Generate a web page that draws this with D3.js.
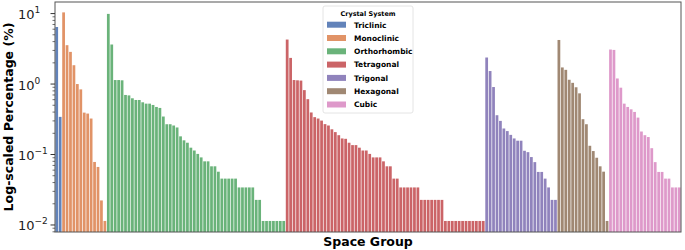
<!DOCTYPE html>
<html>
<head>
<meta charset="utf-8">
<script src="https://cdn.jsdelivr.net/npm/d3@7"></script>
<style>
  body { margin: 0; background: #fff; }
  text { font-family: "DejaVu Sans", sans-serif; }
</style>
</head>
<body>
<div id="chart"></div>
<script>
const systems = ["Triclinic", "Monoclinic", "Orthorhombic", "Tetragonal", "Trigonal", "Hexagonal", "Cubic"];
const colors = ["#4C72B0", "#DD8452", "#55A868", "#C44E52", "#8172B3", "#937860", "#DA8BC3"];

// percentage of structures per space group, sorted high to low within each system
const triclinic = [6.45, 0.342];
const monoclinic = [10.4, 3.56, 2.86, 1.85, 1.0, 0.84, 0.393, 0.381, 0.324, 0.0784, 0.0666, 0.0223, 0.0114];
const orthorhombic = [9.9, 3.64, 1.14, 1.14, 1.13, 0.70, 0.69, 0.628, 0.594, 0.594,
    0.551, 0.527, 0.527, 0.505, 0.473, 0.458, 0.346, 0.269, 0.269, 0.258,
    0.242, 0.181, 0.159, 0.147, 0.125, 0.114, 0.102, 0.091, 0.080, 0.080,
    0.068, 0.068, 0.057, 0.0455, 0.0455, 0.0455, 0.0455, 0.0455, 0.0341, 0.0341,
    0.0341, 0.0341, 0.0341, 0.0227, 0.0227, 0.0114, 0.0114, 0.0114, 0.0114, 0.0114,
    0.0114, 0.0114];
const tetragonal = [4.28, 2.35, 1.14, 1.13, 1.12, 0.82, 0.61, 0.395, 0.339, 0.324,
    0.303, 0.27, 0.258, 0.228, 0.208, 0.188, 0.169, 0.167, 0.147, 0.136,
    0.136, 0.125, 0.114, 0.114, 0.102, 0.091, 0.091, 0.091, 0.080, 0.068,
    0.068, 0.0455, 0.0455, 0.0341, 0.0341, 0.0341, 0.0341, 0.0341, 0.0341, 0.0227,
    0.0227, 0.0227, 0.0227, 0.0227, 0.0227, 0.0227, 0.0114, 0.0114, 0.0114, 0.0114,
    0.0114, 0.0114, 0.0114, 0.0114, 0.0114, 0.0114, 0.0114, 0.0114];
const trigonal = [2.38, 1.53, 0.907, 0.361, 0.30, 0.234, 0.215, 0.19, 0.169, 0.157,
    0.157, 0.113, 0.108, 0.092, 0.078, 0.0566, 0.0566, 0.0455, 0.0341, 0.0227, 0.0227];
const hexagonal = [4.22, 1.72, 1.59, 1.15, 1.04, 0.90, 0.738, 0.317, 0.269, 0.133,
    0.112, 0.090, 0.068, 0.0571, 0.0114];
const cubic = [3.09, 3.05, 1.20, 0.888, 0.527, 0.473, 0.438, 0.402, 0.334, 0.212,
    0.188, 0.177, 0.123, 0.078, 0.0566, 0.0566, 0.0455, 0.0455, 0.0341, 0.0341, 0.0341];

const seriesValues = [triclinic, monoclinic, orthorhombic, tetragonal, trigonal, hexagonal, cubic];
const yTicks = [0.01, 0.1, 1, 10];
const yTickExp = ["\u22122", "\u22121", "0", "1"];

const data = [];
seriesValues.forEach((vals, si) => {
    vals.forEach((v, k) => data.push({ id: si + "-" + k, system: systems[si], value: v }));
});

const width = 685,
    height = 250,
    margin = { top: 2, right: 4, bottom: 18, left: 55 };

const svg = d3.select("#chart")
    .append("svg")
    .attr("width", width)
    .attr("height", height);

const x = d3.scaleBand()
    .domain(data.map(d => d.id))
    .range([margin.left, width - margin.right])
    .paddingInner(0.2)
    .paddingOuter(0.1);

const y = d3.scaleLog()
    .domain([0.00795, 14.6])
    .range([height - margin.bottom, margin.top]);

const color = d3.scaleOrdinal().domain(systems).range(colors);

svg.append("g")
    .selectAll("rect")
    .data(data)
    .join("rect")
    .attr("x", d => x(d.id))
    .attr("y", d => y(d.value))
    .attr("width", x.bandwidth())
    .attr("height", d => y.range()[0] - y(d.value))
    .attr("fill", d => color(d.system))
    .style("opacity", 0.88);

// frame
svg.append("rect")
    .attr("x", margin.left)
    .attr("y", margin.top)
    .attr("width", width - margin.left - margin.right)
    .attr("height", height - margin.top - margin.bottom)
    .attr("fill", "none")
    .attr("stroke", "#555")
    .attr("stroke-width", 1);

// y ticks, major and minor
const minor = [];
for (let e = -3; e <= 1; e++) {
    for (let m = 2; m <= 9; m++) {
        const v = m * Math.pow(10, e);
        if (v > y.domain()[0] && v < y.domain()[1]) minor.push(v);
    }
}
svg.append("g")
    .selectAll("line")
    .data(minor)
    .join("line")
    .attr("x1", margin.left - 2.5)
    .attr("x2", margin.left)
    .attr("y1", d => y(d))
    .attr("y2", d => y(d))
    .attr("stroke", "#333")
    .attr("stroke-width", 0.7);

svg.append("g")
    .selectAll("line")
    .data(yTicks)
    .join("line")
    .attr("x1", margin.left - 4.5)
    .attr("x2", margin.left)
    .attr("y1", d => y(d))
    .attr("y2", d => y(d))
    .attr("stroke", "#333")
    .attr("stroke-width", 1);

const lab = svg.append("g")
    .selectAll("text")
    .data(yTicks)
    .join("text")
    .attr("x", 18)
    .attr("y", d => y(d) + 5.5)
    .style("font-size", "13px")
    .attr("fill", "#222");
lab.append("tspan").text("10");
lab.append("tspan")
    .attr("dy", -6)
    .style("font-size", "9px")
    .text((d, i) => yTickExp[i]);

// axis titles
svg.append("text")
    .attr("transform", `translate(13,${(margin.top + height - margin.bottom) / 2}) rotate(-90)`)
    .attr("text-anchor", "middle")
    .style("font-size", "12.5px")
    .style("font-weight", "bold")
    .text("Log-scaled Percentage (%)");

svg.append("text")
    .attr("x", (margin.left + width - margin.right) / 2)
    .attr("y", 246)
    .attr("text-anchor", "middle")
    .style("font-size", "12.5px")
    .style("font-weight", "bold")
    .text("Space Group");

// legend
const legend = svg.append("g").attr("transform", "translate(323,6)");
legend.append("rect")
    .attr("width", 90)
    .attr("height", 107)
    .attr("rx", 2)
    .attr("fill", "white")
    .attr("fill-opacity", 0.85)
    .attr("stroke", "#ddd")
    .attr("stroke-width", 0.8);
legend.append("text")
    .attr("x", 45)
    .attr("y", 9.5)
    .attr("text-anchor", "middle")
    .style("font-size", "6.5px")
    .style("font-weight", "600")
    .text("Crystal System");
const item = legend.selectAll("g.item")
    .data(systems)
    .join("g")
    .attr("class", "item")
    .attr("transform", (d, i) => `translate(4,${18.7 + i * 13.3})`);
item.append("rect")
    .attr("width", 19)
    .attr("height", 6)
    .attr("y", -3)
    .attr("fill", d => color(d))
    .style("opacity", 0.88);
item.append("text")
    .attr("x", 27)
    .attr("y", 2.8)
    .style("font-size", "7.5px")
    .style("font-weight", "bold")
    .text(d => d);
</script>
</body>
</html>
